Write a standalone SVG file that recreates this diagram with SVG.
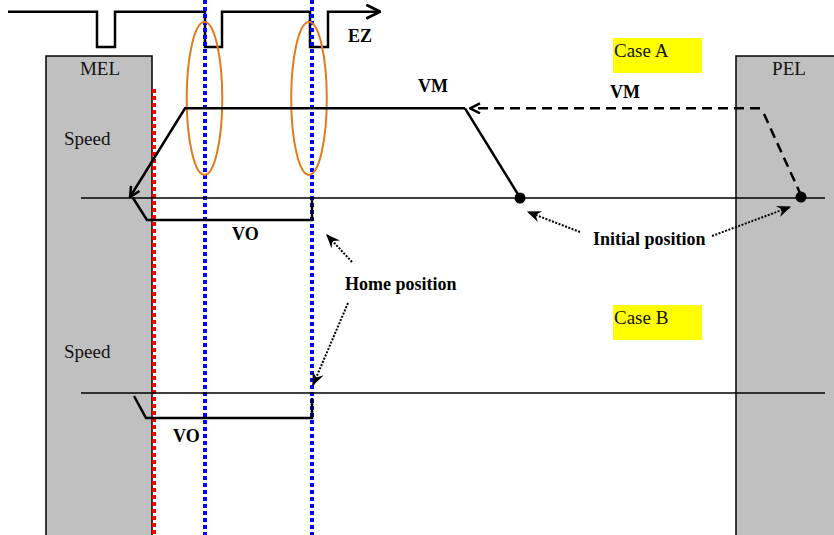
<svg xmlns="http://www.w3.org/2000/svg" width="834" height="535" viewBox="0 0 834 535">
<style>
.t{font-family:"Liberation Serif","Times New Roman",serif;font-size:19px;fill:#111}
.b{font-family:"Liberation Serif","Times New Roman",serif;font-size:18px;font-weight:bold;fill:#000}
.ln{fill:none;stroke:#000;stroke-width:2.5}
.ax{fill:none;stroke:#000;stroke-width:1.6}
.lim{fill:#c0c0c0;stroke:#000;stroke-width:1.5}
.bl{stroke:#0000ff;stroke-width:4;stroke-dasharray:4,3;fill:none}
.rd{stroke:#ff0000;stroke-width:4;stroke-dasharray:4,3;fill:none}
.ov{fill:none;stroke:#e57a1c;stroke-width:2}
.dot{fill:none;stroke:#000;stroke-width:2;stroke-dasharray:2,1.5}
</style>
<defs>
<marker id="ah" viewBox="0 0 12 12" refX="11" refY="6" markerWidth="12" markerHeight="12" markerUnits="userSpaceOnUse" orient="auto"><path d="M1,1 L11,6 L1,11" fill="none" stroke="#000" stroke-width="2.5"/></marker>
<marker id="ah2" viewBox="0 0 14 14" refX="13" refY="7" markerWidth="16" markerHeight="16" markerUnits="userSpaceOnUse" orient="auto"><path d="M1,1 L13,7 L1,13" fill="none" stroke="#000" stroke-width="2.5"/></marker>
<marker id="af" viewBox="0 0 12 10" refX="11" refY="5" markerWidth="14" markerHeight="12" markerUnits="userSpaceOnUse" orient="auto"><path d="M0,0 L12,5 L0,10 L4,5 Z" fill="#000"/></marker>
</defs>
<g id="MEL"><rect class="lim" x="46" y="56" width="106" height="480"/><text class="t" x="100" y="75" text-anchor="middle">MEL</text><text class="t" x="64" y="145">Speed</text><text class="t" x="64" y="358">Speed</text></g>
<g id="PEL"><rect class="lim" x="736" y="56" width="100" height="480"/><text class="t" x="789" y="75" text-anchor="middle">PEL</text></g>
<g id="caseA"><rect x="613" y="38" width="89" height="35" fill="#ffff00"/><text class="t" x="614" y="57">Case A</text></g>
<g id="caseB"><rect x="613" y="305" width="89" height="35" fill="#ffff00"/><text class="t" x="614" y="324">Case B</text></g>
<g id="EZ"><path class="ln" d="M8,11.7 H97 V47 H115 V11.7 H205 V47 H222 V11.7 H310 V47 H328 V11.7 H380" marker-end="url(#ah2)"/><text class="b" x="348" y="42">EZ</text></g>
<g id="connectors">
<line class="rd" x1="154" y1="89" x2="154" y2="535"/>
<line class="bl" x1="205" y1="0" x2="205" y2="535"/>
<line class="bl" x1="312" y1="0" x2="312" y2="535"/>
<ellipse class="ov" cx="204.5" cy="98.5" rx="17.8" ry="76.5"/>
<ellipse class="ov" cx="309" cy="98.5" rx="17.8" ry="76.5"/>
<line class="ax" x1="81" y1="198" x2="825" y2="198"/>
<line class="ax" x1="81" y1="393" x2="825" y2="393"/>
<path class="ln" d="M465,108.3 H185 L130,197" marker-end="url(#ah)"/>
<path class="ln" d="M465,108.3 L520,197.7"/>
<circle cx="520" cy="198" r="5.5" fill="#000"/>
<path class="ln" d="M760,108.3 H470" stroke-dasharray="10,6" marker-end="url(#ah)"/>
<path class="ln" d="M764,114 L800,193" stroke-dasharray="10,6"/>
<circle cx="801" cy="197" r="5.5" fill="#000"/>
<path class="ln" d="M133,198 L147,220 H312 V198"/>
<path class="ln" d="M134,396 L146,418 H312 V398"/>
<path class="dot" d="M580,232 L528,212" marker-end="url(#af)"/>
<path class="dot" d="M712,236 L790,207" marker-end="url(#af)"/>
<path class="dot" d="M352,262 L327,235" marker-end="url(#af)"/>
<path class="dot" d="M348,303 L313,385" marker-end="url(#af)"/>
</g>
<g id="labels">
<text class="b" x="418" y="92">VM</text>
<text class="b" x="610" y="98">VM</text>
<text class="b" x="232" y="240">VO</text>
<text class="b" x="173" y="442">VO</text>
<text class="b" x="345" y="290">Home position</text>
<text class="b" x="593" y="245">Initial position</text>
</g>
</svg>
